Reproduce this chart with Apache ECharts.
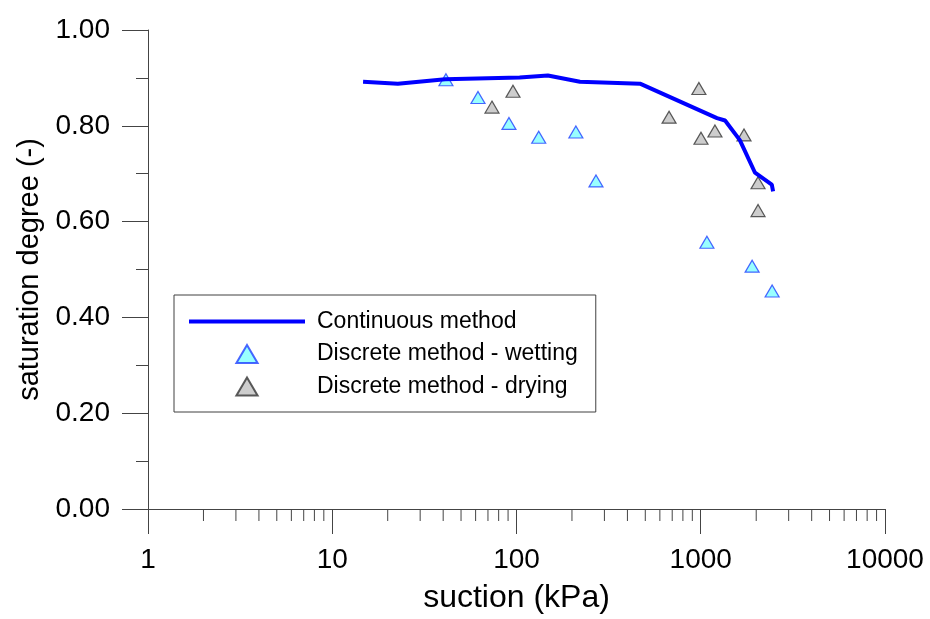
<!DOCTYPE html>
<html>
<head>
<meta charset="utf-8">
<script src="https://cdn.jsdelivr.net/npm/echarts@6/dist/echarts.min.js"></script>
<style>
  html, body { margin: 0; padding: 0; background: #fff; }
  #chart { width: 930px; height: 619px; }
</style>
</head>
<body>
<div id="chart"></div>
<script>
// continuous method (blue line)
const contSuction = [14.7, 22.7, 41, 104, 148, 221, 468, 1225, 1355, 1630, 1970, 2430, 2470];
const contSat = [0.892, 0.888, 0.897, 0.901, 0.905, 0.892, 0.888, 0.816, 0.811, 0.770, 0.702, 0.677, 0.663];

// discrete method - wetting
const wetSuction = [41.4, 61.8, 91, 132, 210, 270, 1080, 1900, 2440];
const wetSat = [0.896, 0.859, 0.805, 0.776, 0.787, 0.685, 0.557, 0.507, 0.455];

// discrete method - drying
const drySuction = [73.6, 95.7, 673, 977, 1003, 1194, 1717, 2046, 2046];
const drySat = [0.839, 0.872, 0.818, 0.878, 0.774, 0.789, 0.781, 0.681, 0.623];

const xTicks = [1, 10, 100, 1000, 10000];
const seriesNames = ['Continuous method', 'Discrete method - wetting', 'Discrete method - drying'];

// minor ticks of the log axis: 2..9 in every decade
const xMinorTicks = [];
for (let d = 1; d < 10000; d *= 10) {
    for (let k = 2; k <= 9; k++) xMinorTicks.push(k * d);
}

const font = "'Liberation Sans', Arial, sans-serif";
const axisColor = '#444';
const triPath = 'path://M10,0 L20,17 L0,17 Z';

const myChart = echarts.init(document.getElementById('chart'));

const option = {
    animation: false,
    textStyle: { fontFamily: font },
    grid: { left: 148, right: 45, top: 30, bottom: 107 },
    legend: {
        orient: 'vertical',
        left: 174,
        top: 295,
        padding: [15, 18, 14, 15],
        itemWidth: 116,
        itemHeight: 18,
        itemGap: 9.5,
        symbolKeepAspect: true,
        backgroundColor: '#fff',
        borderColor: '#404040',
        borderWidth: 1,
        borderRadius: 0,
        selectedMode: false,
        textStyle: { fontSize: 23, lineHeight: 23, color: '#000', fontFamily: font, padding: [0, 0, 0, 7] },
        data: [
            { name: seriesNames[0], icon: 'path://M0,0 L116,0 L116,4 L0,4 Z' },
            { name: seriesNames[1], icon: triPath },
            { name: seriesNames[2], icon: triPath }
        ]
    },
    xAxis: {
        type: 'log',
        logBase: 10,
        min: 1,
        max: 10000,
        name: 'suction (kPa)',
        nameLocation: 'middle',
        nameGap: 73,
        nameTextStyle: { fontSize: 32, color: '#000', fontFamily: font },
        axisLine: { lineStyle: { color: axisColor, width: 1 } },
        axisTick: { length: 25, lineStyle: { color: axisColor } },
        axisLabel: {
            margin: 37,
            fontSize: 28,
            color: '#000',
            fontFamily: font,
            formatter: v => String(Math.round(v))
        },
        splitLine: { show: false }
    },
    yAxis: {
        type: 'value',
        min: 0,
        max: 1,
        interval: 0.2,
        name: 'saturation degree (-)',
        nameLocation: 'middle',
        nameGap: 95,
        nameTextStyle: { fontSize: 29, color: '#000', fontFamily: font },
        axisLine: { show: true, lineStyle: { color: axisColor, width: 1 } },
        axisTick: { show: true, length: 26, lineStyle: { color: axisColor } },
        minorTick: { show: true, splitNumber: 2, length: 12, lineStyle: { color: axisColor } },
        axisLabel: {
            margin: 38,
            fontSize: 28,
            color: '#000',
            fontFamily: font,
            padding: [0, 0, 4, 0],
            formatter: v => v.toFixed(2)
        },
        splitLine: { show: false }
    },
    series: [
        {
            name: seriesNames[1],
            type: 'scatter',
            symbol: 'triangle',
            symbolSize: [14, 12],
            itemStyle: { color: '#80ffff', borderColor: '#2040ff', borderWidth: 1.2 },
            data: wetSuction.map((x, i) => [x, wetSat[i]]),
            z: 2
        },
        {
            name: seriesNames[2],
            type: 'scatter',
            symbol: 'triangle',
            symbolSize: [14, 12],
            itemStyle: { color: '#c0c0c0', borderColor: '#333', borderWidth: 1.2 },
            data: drySuction.map((x, i) => [x, drySat[i]]),
            z: 2
        },
        {
            name: seriesNames[0],
            type: 'line',
            symbol: 'none',
            color: '#0000ff',
            lineStyle: { color: '#0000ff', width: 4 },
            itemStyle: { color: '#0000ff' },
            data: contSuction.map((x, i) => [x, contSat[i]]),
            z: 3
        },
        {
            type: 'custom',
            silent: true,
            clip: false,
            data: xMinorTicks.map(v => [v, 0]),
            renderItem: (params, api) => {
                const p = api.coord([api.value(0), 0]);
                return {
                    type: 'line',
                    shape: { x1: p[0], y1: p[1], x2: p[0], y2: p[1] + 12 },
                    style: { stroke: axisColor, lineWidth: 1 }
                };
            }
        }
    ]
};

myChart.setOption(option);
</script>
</body>
</html>
